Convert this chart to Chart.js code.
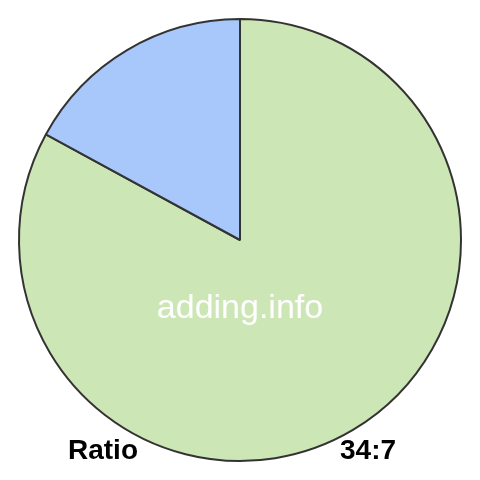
<!DOCTYPE html>
<html>
<head>
<meta charset="utf-8">
<script src="https://cdn.jsdelivr.net/npm/chart.js@4"></script>
<style>
  html, body { margin: 0; padding: 0; background: #fff; }
  #wrap { position: relative; width: 480px; height: 480px; }
  canvas { position: absolute; left: 0; top: 0; }
  .t { position: absolute; font-family: "Liberation Sans", Arial, sans-serif; white-space: nowrap; }
  #site { font-size: 34px; line-height: 34px; color: #fff; top: 289px; left: 240px; transform: translateX(-50%); }
  #lbl { font-size: 28px; line-height: 28px; font-weight: bold; color: #000; top: 436px; left: 68px; }
  #val { font-size: 28px; line-height: 28px; font-weight: bold; color: #000; top: 436px; left: 340px; }
</style>
</head>
<body>
<div id="wrap">
  <canvas id="c" width="480" height="480"></canvas>
  <div class="t" id="site">adding.info</div>
  <div class="t" id="lbl">Ratio</div>
  <div class="t" id="val">34:7</div>
</div>
<script>
const categories = ["34", "7"];
const values = [34, 7];
const colors = ["#cde6b5", "#a8c7fa"];

new Chart(document.getElementById("c"), {
  type: "pie",
  data: {
    labels: categories,
    datasets: [{
      data: values,
      backgroundColor: colors,
      borderColor: "#333333",
      borderWidth: 2
    }]
  },
  options: {
    responsive: false,
    animation: false,
    layout: { padding: 18 },
    plugins: { legend: { display: false }, tooltip: { enabled: false } }
  }
});
</script>
</body>
</html>
